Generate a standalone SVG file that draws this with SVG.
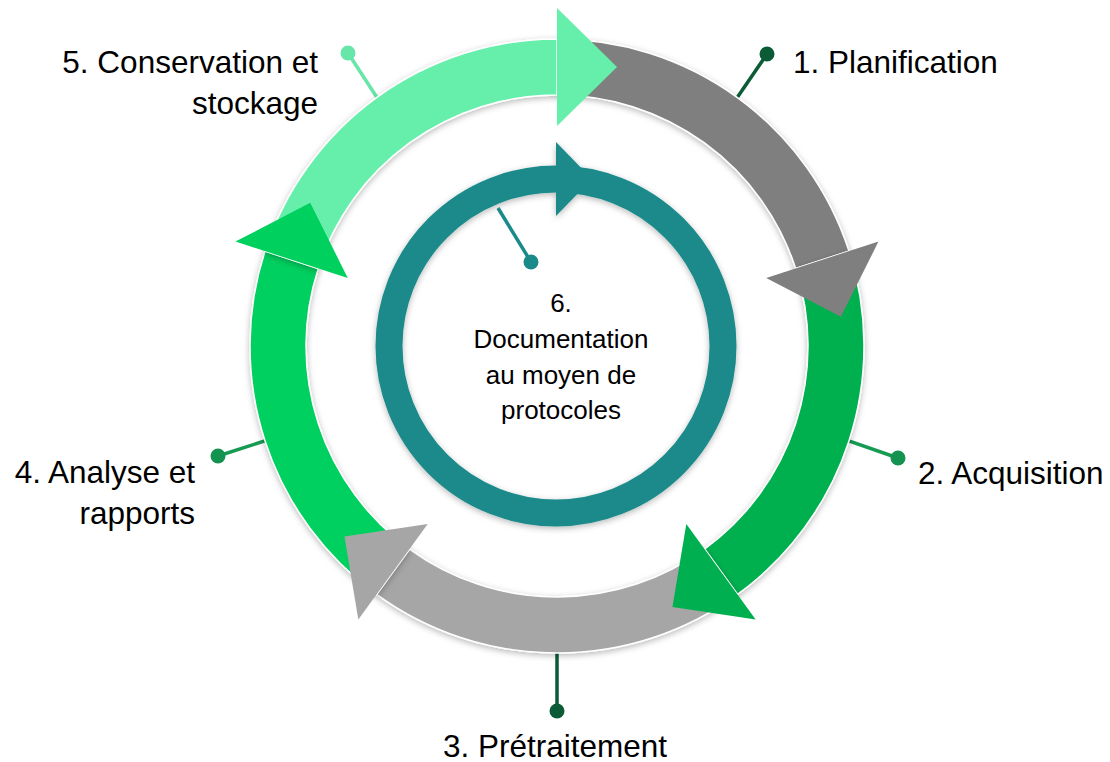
<svg xmlns="http://www.w3.org/2000/svg" width="1110" height="762" viewBox="0 0 1110 762">
<defs>
<filter id="sh" x="-20%" y="-20%" width="140%" height="140%">
<feDropShadow dx="0" dy="2" stdDeviation="3" flood-color="#000" flood-opacity="0.28"/>
</filter>
<style>
.band{stroke:#fff;stroke-width:1.5;filter:url(#sh)}
.head{stroke:none}
.lbl{font-family:"Liberation Sans",Arial,Helvetica,sans-serif;font-size:31.5px;fill:#000}
.inner{font-family:"Liberation Sans",Arial,Helvetica,sans-serif;font-size:26px;fill:#000;text-anchor:middle}
.pl{stroke-width:3.5;fill:none}
</style>
</defs>
<rect width="1110" height="762" fill="#fff"/>
<g id="connectors">
<g id="pointer1"><line class="pl" x1="733.3" y1="103.3" x2="767" y2="54" stroke="#0b5c36"/><circle cx="767" cy="54" r="7.5" fill="#0b5c36"/></g>
<g id="pointer2"><line class="pl" x1="842.3" y1="438.7" x2="898" y2="458" stroke="#179a52"/><circle cx="898" cy="458" r="7.5" fill="#139250"/></g>
<g id="pointer3"><line class="pl" x1="557" y1="646" x2="557" y2="711" stroke="#0b5c36"/><circle cx="557" cy="711" r="7.5" fill="#0b5c36"/></g>
<g id="pointer4"><line class="pl" x1="271.7" y1="438.7" x2="218" y2="456" stroke="#179a52"/><circle cx="218" cy="456" r="7.5" fill="#139250"/></g>
<g id="pointer5"><line class="pl" x1="380.7" y1="103.3" x2="348" y2="53" stroke="#66e6a8"/><circle cx="348" cy="53" r="7.5" fill="#66e6a8"/></g>
</g>
<g id="outer-cycle" transform="translate(557,346)">
<g id="step1-body"><path class="band" fill="#7f7f7f" d="M0,-307 A307,307 0 0 1 291.97,-94.87 L238.72,-77.56 A251,251 0 0 0 0,-251 Z"/></g>
<g id="step2-body"><path class="band" fill="#00b050" d="M291.97,-94.87 A307,307 0 0 1 180.45,248.37 L147.53,203.06 A251,251 0 0 0 238.72,-77.56 Z"/></g>
<g id="step3-body"><path class="band" fill="#a6a6a6" d="M180.45,248.37 A307,307 0 0 1 -180.45,248.37 L-147.53,203.06 A251,251 0 0 0 147.53,203.06 Z"/></g>
<g id="step4-body"><path class="band" fill="#00d05e" d="M-180.45,248.37 A307,307 0 0 1 -291.97,-94.87 L-238.72,-77.56 A251,251 0 0 0 -147.53,203.06 Z"/></g>
<g id="step5-body"><path class="band" fill="#66efab" d="M-291.97,-94.87 A307,307 0 0 1 0,-307 L0,-251 A251,251 0 0 0 -238.72,-77.56 Z"/></g>
<g id="step5-head"><polygon class="head" fill="#66efab" points="0,-220 0,-338 60,-279"/></g>
<g id="step1-head"><polygon class="head" fill="#7f7f7f" points="209.23,-67.98 321.46,-104.45 283.88,-29.16"/></g>
<g id="step2-head"><polygon class="head" fill="#00b050" points="129.31,177.98 198.67,273.45 115.46,260.99"/></g>
<g id="step3-head"><polygon class="head" fill="#a6a6a6" points="-129.31,177.98 -198.67,273.45 -212.54,190.45"/></g>
<g id="step4-head"><polygon class="head" fill="#00d05e" points="-209.23,-67.98 -321.46,-104.45 -246.8,-143.28"/></g>
</g>
<g id="step6" transform="translate(556,346)">
<g filter="url(#sh)">
<circle cx="0" cy="0" r="167" fill="none" stroke="#1b8a8a" stroke-width="27"/>
<polygon fill="#1b8a8a" points="0,-204 0,-130 36,-167"/>
</g>
</g>
<g id="pointer6"><line class="pl" x1="498" y1="208" x2="531" y2="262" stroke="#1b8a8a"/><circle cx="531" cy="262" r="7.5" fill="#1b8a8a"/></g>
<g id="labels">
<g id="label1"><text class="lbl" x="793" y="73">1. Planification</text></g>
<g id="label2"><text class="lbl" x="918" y="484">2. Acquisition</text></g>
<g id="label3"><text class="lbl" x="555" y="757" text-anchor="middle">3. Prétraitement</text></g>
<g id="label4"><text class="lbl" text-anchor="end"><tspan x="195" y="483">4. Analyse et</tspan><tspan x="195" y="524">rapports</tspan></text></g>
<g id="label5"><text class="lbl" text-anchor="end"><tspan x="318" y="73">5. Conservation et</tspan><tspan x="318" y="114">stockage</tspan></text></g>
<g id="label6"><text class="inner"><tspan x="561" y="312">6.</tspan><tspan x="561" y="348">Documentation</tspan><tspan x="561" y="384">au moyen de</tspan><tspan x="561" y="419">protocoles</tspan></text></g>
</g>
</svg>
